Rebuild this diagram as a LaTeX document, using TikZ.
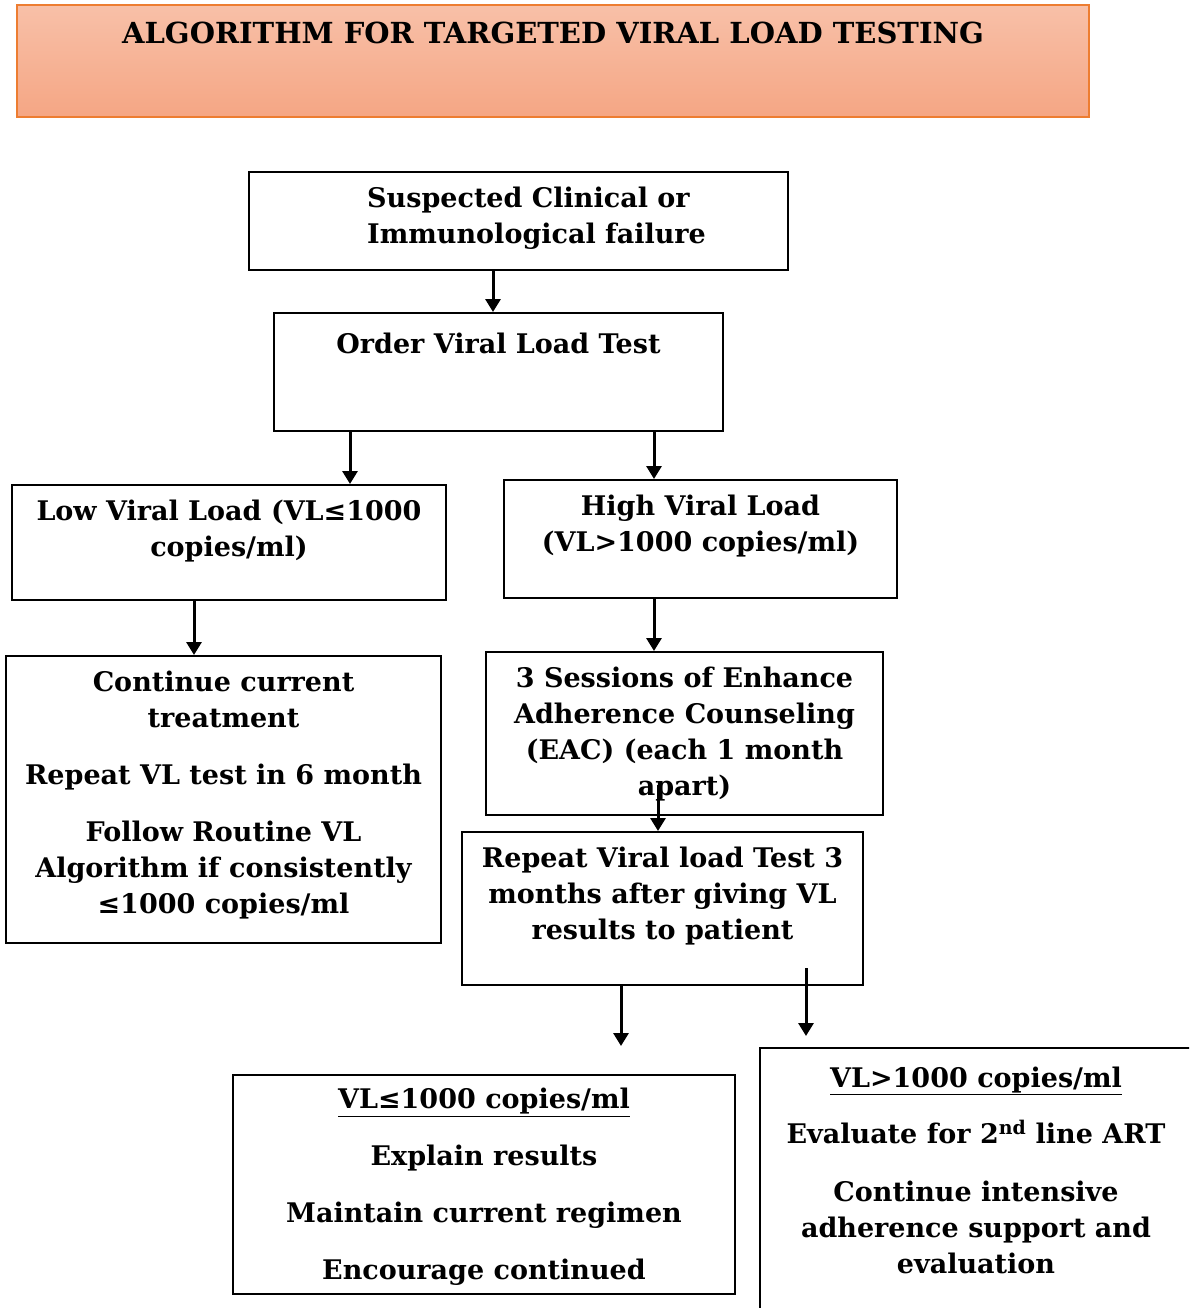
\documentclass[tikz,border=0pt]{standalone}
\usepackage{fontspec}
\setmainfont{DejaVu Serif}
\usetikzlibrary{arrows.meta}
\begin{document}
\begin{tikzpicture}[x=1pt,y=-1pt,
  box/.style={draw=black, line width=2pt, fill=white, inner sep=0pt},
  txt/.style={font=\bfseries\fontsize{27}{36}\selectfont, align=center, inner sep=0pt},
  arr/.style={line width=3pt, -{Triangle[length=13pt,width=15pt]}},
]
\definecolor{titleline}{RGB}{237,125,49}
\definecolor{titletop}{RGB}{248,192,168}
\definecolor{titlebot}{RGB}{245,166,132}
\useasboundingbox (0,0) rectangle (1189,1308);
\begin{scope}
\clip (0,0) rectangle (1189,1308);

% heading banner
\node[draw=titleline, line width=2pt, top color=titletop, bottom color=titlebot,
      minimum width=1072pt, minimum height=112pt, inner sep=0pt] (title) at (553,61) {};
\node[font=\bfseries\fontsize{29}{34}\selectfont, inner sep=0pt] (titletext) at (553,33)
  {ALGORITHM FOR TARGETED VIRAL LOAD TESTING};

% flow boxes
\node[box, minimum width=539pt, minimum height=98pt]  (susp) at (518.5,221) {};
\node[box, minimum width=449pt, minimum height=118pt] (order) at (498.5,372) {};
\node[box, minimum width=434pt, minimum height=115pt] (low) at (229,542.5) {};
\node[box, minimum width=393pt, minimum height=118pt] (high) at (700.5,539) {};
\node[box, minimum width=435pt, minimum height=287pt] (cont) at (223.5,799.5) {};
\node[box, minimum width=397pt, minimum height=163pt] (eac) at (684.5,733.5) {};
\node[box, minimum width=401pt, minimum height=153pt] (rep) at (662.5,908.5) {};
\node[box, minimum width=502pt, minimum height=219pt] (lowres) at (484,1184.5) {};
\node[box, minimum width=432pt, minimum height=282pt] (highres) at (976,1189) {};

% box texts
\node[txt, align=left, anchor=west] (tsusp) at (367,218)
  {Suspected Clinical or\\Immunological failure};
\node[txt] (torder) at (498.5,343) {Order Viral Load Test};
\node[txt] (tlow) at (229,531) {Low Viral Load (VL≤1000\\copies/ml)};
\node[txt] (thigh) at (700.5,526) {High Viral Load\\(VL>1000 copies/ml)};
\node[txt] (tcont) at (223.5,795)
  {Continue current\\treatment\\[21pt]Repeat VL test in 6 month\\[21pt]Follow Routine VL\\Algorithm if consistently\\≤1000 copies/ml};
\node[txt] (teac) at (684.5,734)
  {3 Sessions of Enhance\\Adherence Counseling\\(EAC) (each 1 month\\apart)};
\node[txt] (trep) at (662.5,896)
  {Repeat Viral load Test 3\\months after giving VL\\results to patient};
\node[txt] (tlowres) at (484,1187)
  {\underline{VL≤1000 copies/ml}\\[21pt]Explain results\\[21pt]Maintain current regimen\\[21pt]Encourage continued};
\node[txt] (thighres) at (976,1170)
  {\underline{VL>1000 copies/ml}\\[20pt]Evaluate for 2\textsuperscript{nd} line ART\\[22pt]Continue intensive\\adherence support and\\evaluation};

% connector guides
\coordinate (c1) at (493,0);
\coordinate (c2) at (350,0);
\coordinate (c3) at (654,0);
\coordinate (c4) at (194,0);
\coordinate (eacout) at (658,785);
\coordinate (lowresin) at (621,1046);
\coordinate (highresout) at (806,968);
\coordinate (highresin) at (806,1036);

% connectors
\draw[arr] (susp.south -| c1) -- (order.north -| c1);
\draw[arr] (order.south -| c2) -- (low.north -| c2);
\draw[arr] (order.south -| c3) -- (high.north -| c3);
\draw[arr] (low.south -| c4) -- (cont.north -| c4);
\draw[arr] (high.south -| c3) -- (eac.north -| c3);
\draw[arr] (eacout) -- (rep.north -| eacout);
\draw[arr] (rep.south -| lowresin) -- (lowresin);
\draw[arr] (highresout) -- (highresin);
\end{scope}
\end{tikzpicture}
\end{document}
